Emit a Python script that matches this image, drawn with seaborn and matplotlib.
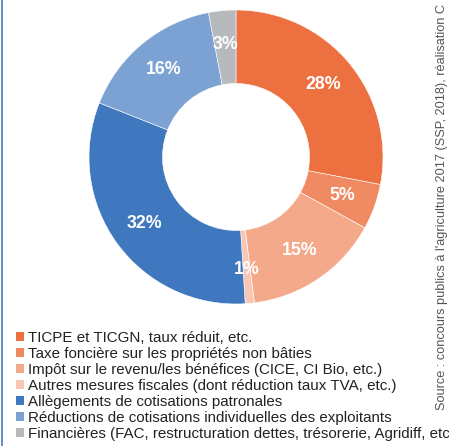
import matplotlib
matplotlib.use("Agg")
import matplotlib.pyplot as plt
from matplotlib.lines import Line2D
from matplotlib.patches import Patch
import seaborn as sns

categories = [
    "TICPE et TICGN, taux réduit, etc.",
    "Taxe foncière sur les propriétés non bâties",
    "Impôt sur le revenu/les bénéfices (CICE, CI Bio, etc.)",
    "Autres mesures fiscales (dont réduction taux TVA, etc.)",
    "Allègements de cotisations patronales",
    "Réductions de cotisations individuelles des exploitants",
    "Financières (FAC, restructuration dettes, trésorerie, Agridiff, etc.)",
]
shares = [28, 5, 15, 1, 32, 16, 3]
colors = ["#ED7040", "#F08A63", "#F4A98B", "#F8C6B2", "#3F78BE", "#7BA2D2", "#B6BABD"]
source = "Source : concours publics à l'agriculture 2017 (SSP, 2018), réalisation C"

sns.set_theme(style="white")
plt.rcParams["font.family"] = ["Liberation Sans", "DejaVu Sans"]
palette = sns.color_palette(colors)

fig = plt.figure(figsize=(4.49, 4.46), dpi=100)
fig.patch.set_facecolor("white")

# donut
ax = fig.add_axes([89 / 449, 142 / 446, 294 / 449, 294 / 446])
wedges, texts, autotexts = ax.pie(
    shares, colors=palette, startangle=90, counterclock=False,
    radius=1.0, pctdistance=0.77,
    autopct=lambda p: f"{p:.0f}%",
    wedgeprops=dict(width=0.5, edgecolor="white", linewidth=0.4),
    textprops=dict(color="white", fontsize=12.8, fontweight="bold"),
)
ax.set_xlim(-1, 1)
ax.set_ylim(-1, 1)
ax.set_aspect("equal")
ax.axis("off")

# legend
handles = [Patch(facecolor=c, edgecolor="none") for c in palette]
fig.legend(handles, categories, loc="upper left",
           bbox_to_anchor=(16 / 449, 1 - 331 / 446),
           frameon=False, fontsize=10.9, handlelength=0.55, handleheight=0.55,
           handletextpad=0.25, labelspacing=0.13, borderpad=0, borderaxespad=0,
           labelcolor="#222222")

# source, vertical at right edge
fig.text(0.984, 1 - 410 / 446, source, rotation=90, ha="center", va="bottom",
         fontsize=9.2, color="#555555")

# blue frame line on the left
fig.add_artist(Line2D([2 / 449, 2 / 449], [0, 1], color="#4A7CC0", linewidth=1.2))

fig.savefig("out.png", dpi=100)
